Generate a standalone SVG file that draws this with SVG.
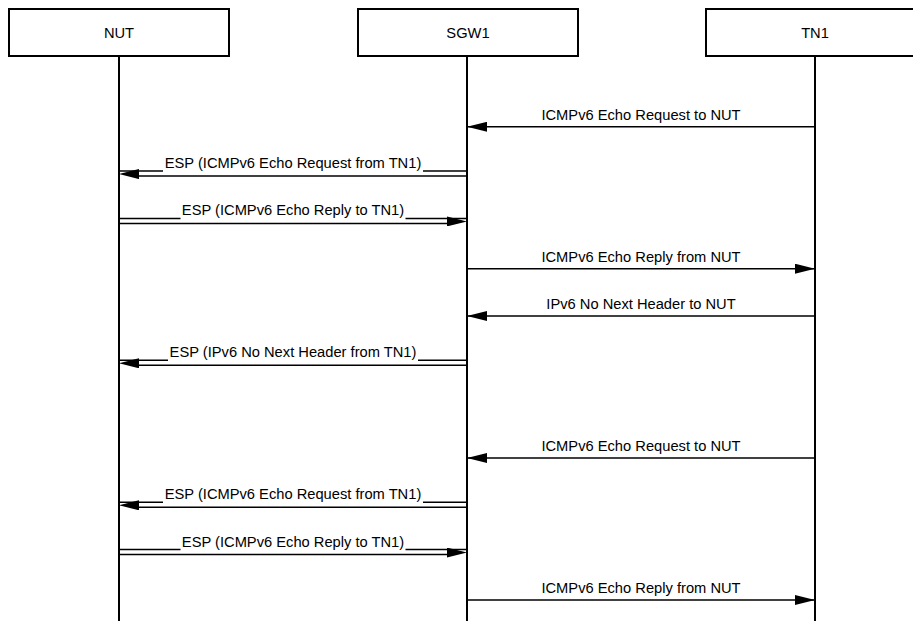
<svg xmlns="http://www.w3.org/2000/svg" width="913" height="621" viewBox="0 0 913 621">
<style>
  .box { fill: #fff; stroke: #000; stroke-width: 2; }
  .life { stroke: #000; stroke-width: 2; fill: none; }
  .msg { stroke: #000; stroke-width: 1.5; fill: none; }
  .guide { stroke: none; fill: none; }
  .lbl { font-family: "Liberation Sans", Arial, Helvetica, sans-serif; font-size: 14.7px; fill: #000; text-anchor: middle; }
  .bg { fill: #fff; stroke: none; }
</style>
<defs>
  <marker id="ah" markerUnits="userSpaceOnUse" markerWidth="20" markerHeight="10" refX="20" refY="5" orient="auto" viewBox="0 0 20 10">
    <path d="M0,0 L20,5 L0,10 z" fill="#000"/>
  </marker>
</defs>

<g id="node-NUT">
  <line class="life" x1="119" y1="56" x2="119" y2="621"/>
  <rect class="box" x="9" y="9" width="220" height="47"/>
  <text class="lbl" x="119" y="37.5">NUT</text>
</g>
<g id="node-SGW1">
  <line class="life" x1="467" y1="56" x2="467" y2="621"/>
  <rect class="box" x="358" y="9" width="220" height="47"/>
  <text class="lbl" x="468" y="37.5">SGW1</text>
</g>
<g id="node-TN1">
  <line class="life" x1="815" y1="56" x2="815" y2="621"/>
  <rect class="box" x="706" y="9" width="220" height="47"/>
  <text class="lbl" x="815" y="37.5">TN1</text>
</g>

<g id="connectors">
  <!-- 1 -->
  <g>
    <line class="msg" x1="815" y1="126.8" x2="467" y2="126.8" marker-end="url(#ah)"/>
    <text class="lbl" x="641" y="120">ICMPv6 Echo Request to NUT</text>
  </g>
  <!-- 2 -->
  <g>
    <line class="msg" x1="467" y1="171.1" x2="119" y2="171.1"/>
    <line class="msg" x1="467" y1="176.1" x2="135" y2="176.1"/>
    <path class="guide" d="M467,174.1 L119,174.1" marker-end="url(#ah)"/>
    <rect class="bg" x="163" y="156" width="260" height="17"/>
    <text class="lbl" x="293" y="168.1">ESP (ICMPv6 Echo Request from TN1)</text>
  </g>
  <!-- 3 -->
  <g>
    <line class="msg" x1="119" y1="218.4" x2="467" y2="218.4"/>
    <line class="msg" x1="119" y1="223.4" x2="451" y2="223.4"/>
    <path class="guide" d="M119,221.4 L467,221.4" marker-end="url(#ah)"/>
    <rect class="bg" x="180.5" y="203.3" width="225" height="17"/>
    <text class="lbl" x="293" y="215.4">ESP (ICMPv6 Echo Reply to TN1)</text>
  </g>
  <!-- 4 -->
  <g>
    <line class="msg" x1="467" y1="268.7" x2="815" y2="268.7" marker-end="url(#ah)"/>
    <text class="lbl" x="641" y="261.9">ICMPv6 Echo Reply from NUT</text>
  </g>
  <!-- 5 -->
  <g>
    <line class="msg" x1="815" y1="316" x2="467" y2="316" marker-end="url(#ah)"/>
    <text class="lbl" x="641" y="309.2">IPv6 No Next Header to NUT</text>
  </g>
  <!-- 6 -->
  <g>
    <line class="msg" x1="467" y1="360.3" x2="119" y2="360.3"/>
    <line class="msg" x1="467" y1="365.3" x2="135" y2="365.3"/>
    <path class="guide" d="M467,363.3 L119,363.3" marker-end="url(#ah)"/>
    <rect class="bg" x="168" y="345.2" width="250" height="17"/>
    <text class="lbl" x="293" y="357.3">ESP (IPv6 No Next Header from TN1)</text>
  </g>
  <!-- 7 -->
  <g>
    <line class="msg" x1="815" y1="458" x2="467" y2="458" marker-end="url(#ah)"/>
    <text class="lbl" x="641" y="451.2">ICMPv6 Echo Request to NUT</text>
  </g>
  <!-- 8 -->
  <g>
    <line class="msg" x1="467" y1="502.3" x2="119" y2="502.3"/>
    <line class="msg" x1="467" y1="507.3" x2="135" y2="507.3"/>
    <path class="guide" d="M467,505.3 L119,505.3" marker-end="url(#ah)"/>
    <rect class="bg" x="163" y="487.2" width="260" height="17"/>
    <text class="lbl" x="293" y="499.3">ESP (ICMPv6 Echo Request from TN1)</text>
  </g>
  <!-- 9 -->
  <g>
    <line class="msg" x1="119" y1="549.6" x2="467" y2="549.6"/>
    <line class="msg" x1="119" y1="554.6" x2="451" y2="554.6"/>
    <path class="guide" d="M119,552.6 L467,552.6" marker-end="url(#ah)"/>
    <rect class="bg" x="180.5" y="534.5" width="225" height="17"/>
    <text class="lbl" x="293" y="546.6">ESP (ICMPv6 Echo Reply to TN1)</text>
  </g>
  <!-- 10 -->
  <g>
    <line class="msg" x1="467" y1="600" x2="815" y2="600" marker-end="url(#ah)"/>
    <text class="lbl" x="641" y="593.2">ICMPv6 Echo Reply from NUT</text>
  </g>
</g>
</svg>
